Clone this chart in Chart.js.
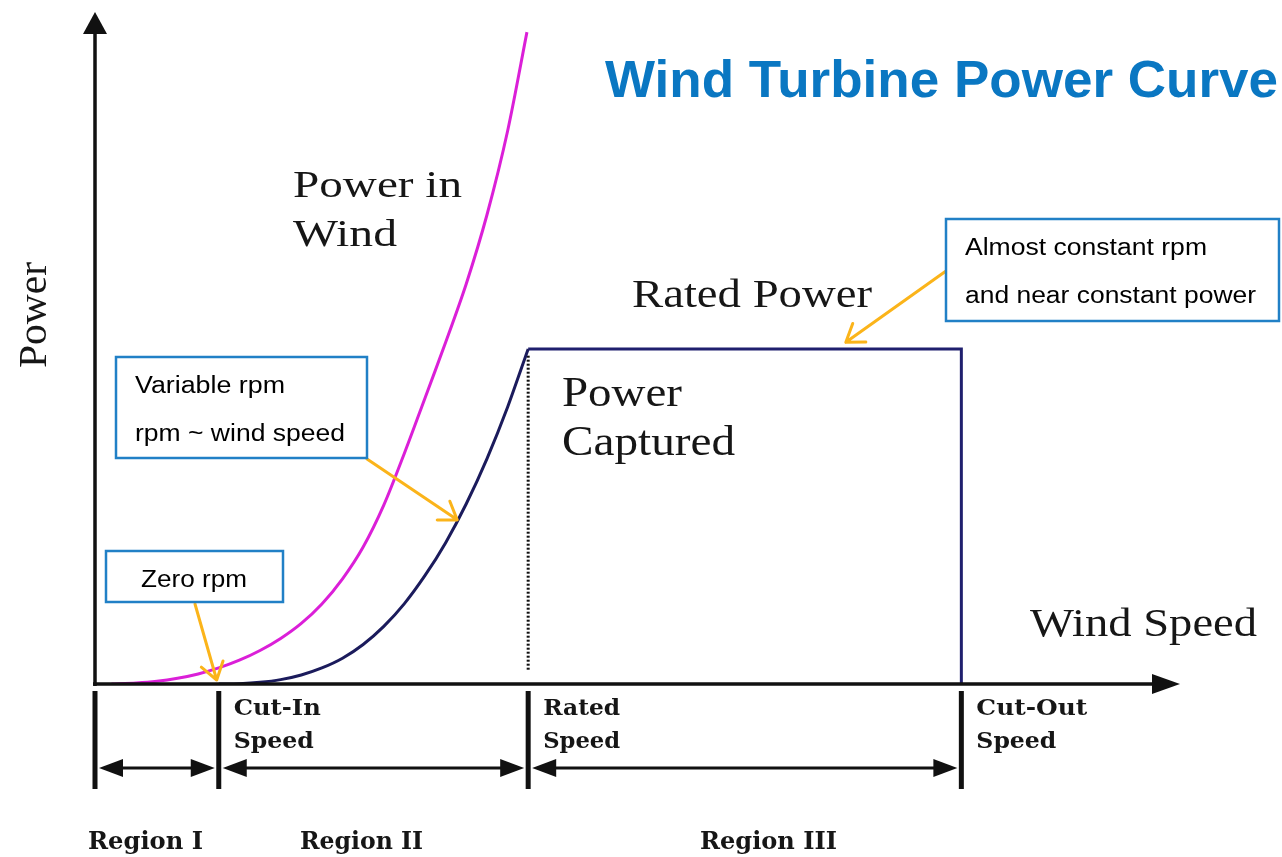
<!DOCTYPE html>
<html>
<head>
<meta charset="utf-8">
<title>Wind Turbine Power Curve</title>
<script src="https://cdn.jsdelivr.net/npm/chart.js@4.4.1/dist/chart.umd.min.js"></script>
<style>
  html, body { margin: 0; padding: 0; background: #fff; }
  #chart { display: block; }
</style>
</head>
<body>
<canvas id="chart" width="1282" height="857"></canvas>
<script>
// wind speed (m/s) and available power in the wind (rated power = 1)
const windSpeed = [0.4, 1, 1.5, 2, 2.5, 3, 3.5, 4, 4.5, 5, 5.5, 6, 6.5, 7, 7.5, 8, 8.5, 9, 9.5, 10, 10.47];
const powerInWind = [0, 0.003, 0.008, 0.017, 0.03, 0.048, 0.071, 0.1, 0.136, 0.181, 0.239, 0.314, 0.409, 0.534, 0.689, 0.854, 1.02, 1.195, 1.4, 1.65, 1.946];

// power captured by the turbine, cut-in to rated
const capturedSpeed = [3, 3.5, 4, 4.5, 5, 5.5, 6, 6.5, 7, 7.5, 8, 8.5, 9, 9.5, 10, 10.5];
const capturedPower = [0, 0.001, 0.005, 0.013, 0.027, 0.048, 0.077, 0.118, 0.172, 0.24, 0.324, 0.422, 0.538, 0.672, 0.826, 1.0];

// region III: flat at rated power, then shut down at cut-out
const ratedPower = 1.0;
const cutInSpeed = 3.0;
const ratedSpeed = 10.5;
const cutOutSpeed = 21.0;

const regionEdges = [0, cutInSpeed, ratedSpeed, cutOutSpeed];
const regionNames = ['Region I', 'Region II', 'Region III'];
const edgeLabels = [['Cut-In', 'Speed'], ['Rated', 'Speed'], ['Cut-Out', 'Speed']];

const toPoints = (xs, ys) => xs.map((x, i) => ({ x, y: ys[i] }));

const SERIF = '"Liberation Serif", "Times New Roman", serif';
const BOLD_SERIF = 'bold 23px "DejaVu Serif", serif';
const SANS = '"Liberation Sans", Arial, sans-serif';
const ORANGE = '#fbb41a';
const BOX_BLUE = '#2180c6';

// draw text squeezed/stretched to a given width
function fitText(ctx, str, x, y, width, font) {
  ctx.font = font;
  const w = ctx.measureText(str).width;
  ctx.save();
  ctx.translate(x, y);
  ctx.scale(width / w, 1);
  ctx.fillText(str, 0, 0);
  ctx.restore();
}

function solidHead(ctx, tx, ty, dx, dy, len, half) {
  // dx,dy: unit direction the arrow points to
  const bx = tx - dx * len, by = ty - dy * len;
  ctx.beginPath();
  ctx.moveTo(tx, ty);
  ctx.lineTo(bx - dy * half, by + dx * half);
  ctx.lineTo(bx + dy * half, by - dx * half);
  ctx.closePath();
  ctx.fill();
}

function calloutArrow(ctx, x1, y1, x2, y2) {
  const a = Math.atan2(y2 - y1, x2 - x1);
  ctx.save();
  ctx.strokeStyle = ORANGE;
  ctx.lineWidth = 3;
  ctx.lineCap = 'round';
  ctx.lineJoin = 'round';
  ctx.beginPath();
  ctx.moveTo(x1, y1);
  ctx.lineTo(x2, y2);
  for (const s of [-1, 1]) {
    ctx.moveTo(x2, y2);
    ctx.lineTo(x2 - 20 * Math.cos(a + s * 0.6), y2 - 20 * Math.sin(a + s * 0.6));
  }
  ctx.stroke();
  ctx.restore();
}

function calloutBox(ctx, x, y, w, h) {
  ctx.save();
  ctx.fillStyle = '#fff';
  ctx.fillRect(x, y, w, h);
  ctx.strokeStyle = BOX_BLUE;
  ctx.lineWidth = 2.5;
  ctx.strokeRect(x, y, w, h);
  ctx.restore();
}

const sketch = {
  id: 'sketch',
  beforeDraw(chart) {
    const ctx = chart.ctx;
    ctx.save();
    ctx.fillStyle = '#fff';
    ctx.fillRect(0, 0, chart.width, chart.height);
    ctx.restore();
  },
  afterDatasetsDraw(chart) {
    const ctx = chart.ctx;
    const xs = chart.scales.x, ys = chart.scales.y;
    const area = chart.chartArea;
    const x0 = xs.getPixelForValue(0), y0 = ys.getPixelForValue(0);

    ctx.save();
    ctx.strokeStyle = '#111';
    ctx.fillStyle = '#111';

    // axes with arrow heads
    ctx.lineWidth = 3.5;
    ctx.beginPath();
    ctx.moveTo(x0, y0 + 2);
    ctx.lineTo(x0, area.top + 16);
    ctx.moveTo(x0 - 2, y0);
    ctx.lineTo(area.right - 20, y0);
    ctx.stroke();
    solidHead(ctx, x0, area.top - 2, 0, -1, 22, 12);
    solidHead(ctx, area.right, y0, 1, 0, 28, 10);

    // region boundary bars and spans
    const barTop = y0 + 7, barBottom = y0 + 105, spanY = y0 + 84;
    ctx.lineWidth = 5;
    ctx.beginPath();
    regionEdges.forEach(v => {
      const x = xs.getPixelForValue(v);
      ctx.moveTo(x, barTop);
      ctx.lineTo(x, barBottom);
    });
    ctx.stroke();

    ctx.lineWidth = 3;
    for (let i = 0; i < regionEdges.length - 1; i++) {
      const a = xs.getPixelForValue(regionEdges[i]) + 4;
      const b = xs.getPixelForValue(regionEdges[i + 1]) - 4;
      ctx.beginPath();
      ctx.moveTo(a + 10, spanY);
      ctx.lineTo(b - 10, spanY);
      ctx.stroke();
      solidHead(ctx, a, spanY, -1, 0, 24, 9);
      solidHead(ctx, b, spanY, 1, 0, 24, 9);
    }
    ctx.restore();
  },
  afterDraw(chart) {
    const ctx = chart.ctx;
    const xs = chart.scales.x, ys = chart.scales.y;
    const px = v => xs.getPixelForValue(v);

    ctx.save();
    ctx.textAlign = 'left';
    ctx.textBaseline = 'alphabetic';

    // title
    ctx.fillStyle = '#0a77c2';
    fitText(ctx, 'Wind Turbine Power Curve', 605, 97, 673, 'bold 52px ' + SANS);

    // plain serif labels
    ctx.fillStyle = '#161616';
    fitText(ctx, 'Power in', 293, 197, 169, '37px ' + SERIF);
    fitText(ctx, 'Wind', 293, 246, 104, '37px ' + SERIF);
    fitText(ctx, 'Rated Power', 632, 307, 240, '40px ' + SERIF);
    fitText(ctx, 'Power', 562, 406, 120, '42px ' + SERIF);
    fitText(ctx, 'Captured', 562, 455, 173, '42px ' + SERIF);
    fitText(ctx, 'Wind Speed', 1030, 636, 227, '40px ' + SERIF);

    ctx.save();
    ctx.translate(46, 368);
    ctx.rotate(-Math.PI / 2);
    fitText(ctx, 'Power', 0, 0, 106, '40px ' + SERIF);
    ctx.restore();

    // boundary labels and region names
    const edgeWidths = [[87, 80], [77, 77], [111, 80]];
    edgeLabels.forEach((lines, i) => {
      const x = px(regionEdges[i + 1]) + 15;
      fitText(ctx, lines[0], x, 715, edgeWidths[i][0], BOLD_SERIF);
      fitText(ctx, lines[1], x, 748, edgeWidths[i][1], BOLD_SERIF);
    });
    const nameLeft = [88, 300, 700];
    const nameWidths = [115, 123, 137];
    regionNames.forEach((name, i) => {
      fitText(ctx, name, nameLeft[i], 849, nameWidths[i], 'bold 24px "DejaVu Serif", serif');
    });

    // callouts
    calloutArrow(ctx, 195, 604, px(2.95), ys.getPixelForValue(0.012));
    calloutArrow(ctx, 367, 459, px(8.78), ys.getPixelForValue(0.49));
    calloutArrow(ctx, 946, 271, px(18.2), ys.getPixelForValue(1.02));

    calloutBox(ctx, 116, 357, 251, 101);
    calloutBox(ctx, 106, 551, 177, 51);
    calloutBox(ctx, 946, 219, 333, 102);

    ctx.fillStyle = '#000';
    fitText(ctx, 'Variable rpm', 135, 393, 150, '23px ' + SANS);
    fitText(ctx, 'rpm ~ wind speed', 135, 441, 210, '23px ' + SANS);
    fitText(ctx, 'Zero rpm', 141, 587, 106, '23px ' + SANS);
    fitText(ctx, 'Almost constant rpm', 965, 255, 242, '23px ' + SANS);
    fitText(ctx, 'and near constant power', 965, 303, 291, '23px ' + SANS);

    ctx.restore();
  }
};

new Chart(document.getElementById('chart'), {
  type: 'scatter',
  data: {
    datasets: [
      {
        label: 'Power in Wind',
        data: toPoints(windSpeed, powerInWind),
        showLine: true,
        borderColor: '#db1fd8',
        borderWidth: 3,
        pointRadius: 0,
        tension: 0.3
      },
      {
        label: 'Power Captured',
        data: toPoints(capturedSpeed, capturedPower),
        showLine: true,
        borderColor: '#1b1b5c',
        borderWidth: 3,
        pointRadius: 0,
        tension: 0.2
      },
      {
        label: 'Rated Power',
        data: [
          { x: ratedSpeed, y: ratedPower },
          { x: cutOutSpeed, y: ratedPower },
          { x: cutOutSpeed, y: 0 }
        ],
        showLine: true,
        borderColor: '#1f1f6e',
        borderWidth: 3,
        pointRadius: 0,
        tension: 0
      },
      {
        label: 'Rated Speed',
        data: [
          { x: ratedSpeed, y: ratedPower - 0.02 },
          { x: ratedSpeed, y: 0.04 }
        ],
        showLine: true,
        borderColor: '#111',
        borderWidth: 3,
        borderDash: [2, 2],
        pointRadius: 0,
        tension: 0
      }
    ]
  },
  options: {
    responsive: false,
    animation: false,
    events: [],
    layout: { padding: { left: 95, right: 102, top: 14, bottom: 173 } },
    plugins: {
      legend: { display: false },
      tooltip: { enabled: false }
    },
    scales: {
      x: { type: 'linear', min: 0, max: 26.3, display: false },
      y: { type: 'linear', min: 0, max: 2, display: false }
    }
  },
  plugins: [sketch]
});
</script>
</body>
</html>
